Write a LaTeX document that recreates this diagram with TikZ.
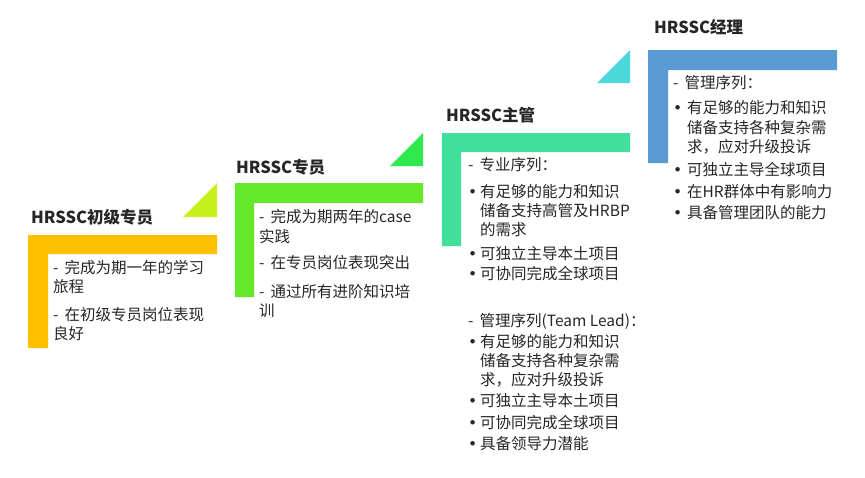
\documentclass[tikz,border=0pt]{standalone}
\usepackage{fontspec}
\setmainfont{Noto Sans CJK SC}
\newfontfamily\bulfont{DejaVu Sans}
\newcommand{\bul}{{\bulfont •}}
\definecolor{txt}{HTML}{262626}
\definecolor{lvA}{HTML}{FFC000}
\definecolor{triA}{HTML}{C5F01C}
\definecolor{lvB}{HTML}{66E82A}
\definecolor{triB}{HTML}{2EE84C}
\definecolor{lvC}{HTML}{40E09A}
\definecolor{triC}{HTML}{4CD8DA}
\definecolor{lvD}{HTML}{5B9BD5}

\begin{document}
\begin{tikzpicture}[x=1pt,y=-1pt,
    title/.style={anchor=west,inner sep=0pt,text=txt,font=\fontsize{16.5}{20}\selectfont\bfseries},
    body/.style={anchor=base west,inner sep=0pt,text=txt,font=\fontsize{15.5}{19}\selectfont}]
    \useasboundingbox (0,0) rectangle (865,477);
    % steps
    \fill[lvA] (28,235) -- (217,235) -- (217,254) -- (48,254) -- (48,348) -- (28,348) -- cycle;
    \fill[triA] (183,217) -- (217,183) -- (217,217) -- cycle;
    \fill[lvB] (235,183) -- (423,183) -- (423,203) -- (254,203) -- (254,297) -- (235,297) -- cycle;
    \fill[triB] (390,166) -- (423,133) -- (423,166) -- cycle;
    \fill[lvC] (442,133) -- (630,133) -- (630,152) -- (461,152) -- (461,246) -- (442,246) -- cycle;
    \fill[triC] (597,83) -- (630,50) -- (630,83) -- cycle;
    \fill[lvD] (648,50) -- (837,50) -- (837,70) -- (668,70) -- (668,163) -- (648,163) -- cycle;
    % titles
    \node[title] (tA) at (31,217) {HRSSC初级专员};
    \node[title] (tB) at (236,167) {HRSSC专员};
    \node[title] (tC) at (446,115) {HRSSC主管};
    \node[title] (tD) at (654,27) {HRSSC经理};
    % texts
    \node[body] (bA) at (53,273.5) {\begin{tabular}[t]{@{}l@{}}
      -\, 完成为期一年的学习\\ 旅程\\[9pt]
      -\, 在初级专员岗位表现\\ 良好\end{tabular}};
    \node[body] (bB) at (259,222.5) {\begin{tabular}[t]{@{}l@{}}
      -\, 完成为期两年的case\\[1pt] 实践\\[7pt]
      -\, 在专员岗位表现突出\\[10pt]
      -\, 通过所有进阶知识培\\ 训\end{tabular}};
    \node[body] (bC1) at (468,170.5) {\begin{tabular}[t]{@{}p{12pt}@{}l@{}}
      \multicolumn{2}{@{}l@{}}{-\, 专业序列：}\\[8pt]
      \bul & 有足够的能力和知识\\ & 储备支持高管及HRBP\\ & 的需求\\[5pt]
      \bul & 可独立主导本土项目\\[1pt]
      \bul & 可协同完成全球项目\end{tabular}};
    \node[body] (bC2) at (468,326.5) {\begin{tabular}[t]{@{}p{12pt}@{}l@{}}
      \multicolumn{2}{@{}l@{}}{-\, 管理序列(Team Lead)：}\\[2pt]
      \bul & 有足够的能力和知识\\ & 储备支持各种复杂需\\ & 求，应对升级投诉\\[2pt]
      \bul & 可独立主导本土项目\\[3pt]
      \bul & 可协同完成全球项目\\[2pt]
      \bul & 具备领导力潜能\end{tabular}};
    \node[body] (bD) at (673,88.5) {\begin{tabular}[t]{@{}p{14pt}@{}l@{}}
      \multicolumn{2}{@{}l@{}}{-\, 管理序列：}\\[6pt]
      \bul & 有足够的能力和知识\\[1pt] & 储备支持各种复杂需\\ & 求，应对升级投诉\\[4pt]
      \bul & 可独立主导全球项目\\[3pt]
      \bul & 在HR群体中有影响力\\[2pt]
      \bul & 具备管理团队的能力\end{tabular}};
\end{tikzpicture}
\end{document}
